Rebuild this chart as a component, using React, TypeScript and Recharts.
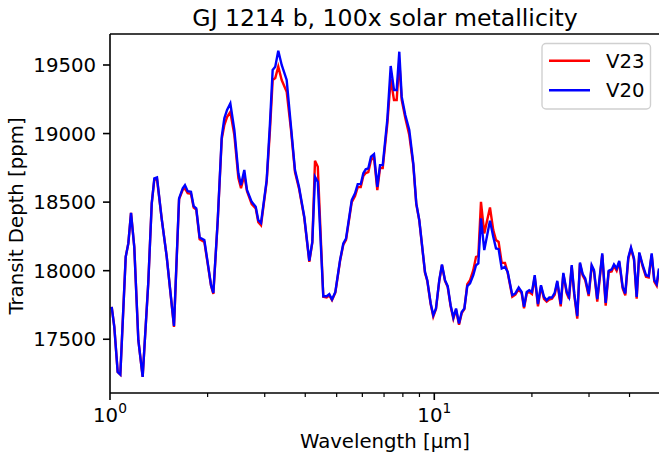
import { LineChart, Line, XAxis, YAxis, ReferenceLine } from 'recharts'

// wavelengths in micron
const wavelength = [
  1.012, 1.031, 1.056, 1.076, 1.118, 1.139, 1.161, 1.188, 1.223, 1.261,
  1.312, 1.345, 1.37, 1.396, 1.443, 1.496, 1.575, 1.633, 1.676, 1.703,
  1.736, 1.777, 1.811, 1.845, 1.89, 1.954, 2.01, 2.049, 2.083, 2.149,
  2.211, 2.252, 2.296, 2.35, 2.418, 2.488, 2.535, 2.595, 2.645, 2.735,
  2.814, 2.866, 2.922, 3.042, 3.114, 3.174, 3.233, 3.303, 3.384, 3.506,
  3.615, 3.719, 3.826, 3.973, 4.117, 4.206, 4.287, 4.373, 4.547, 4.658,
  4.745, 4.837, 4.953, 5.121, 5.242, 5.344, 5.565, 5.697, 5.807, 5.932,
  6.042, 6.146, 6.26, 6.381, 6.518, 6.673, 6.802, 6.934, 7.163, 7.338,
  7.512, 7.657, 7.8, 7.934, 8.139, 8.373, 8.615, 8.8, 8.99, 9.361,
  9.515, 9.748, 9.929, 10.12, 10.36, 10.56, 10.79, 11.0, 11.23, 11.45,
  11.67, 11.92, 12.15, 12.38, 12.64, 12.89, 13.19, 13.45, 13.67, 13.93,
  14.26, 14.85, 15.2, 15.5, 15.79, 16.14, 16.52, 16.84, 17.4, 17.78,
  18.21, 18.6, 18.91, 19.28, 19.63, 20.01, 20.4, 20.88, 21.33, 21.79,
  22.21, 22.63, 23.06, 23.51, 23.95, 24.54, 25.0, 25.61, 26.03, 26.53,
  27.02, 27.6, 28.13, 28.68, 29.21, 29.93, 30.57, 31.08, 31.81, 32.96,
  33.77, 34.49, 35.24, 35.82, 36.51, 37.19, 38.1, 38.81, 39.65, 40.42,
  41.29, 42.08, 42.87, 43.92, 44.96, 45.83, 46.81, 47.69, 48.51, 49.31,
]

// transit depth [ppm]
const v23 = [
  17736, 17590, 17261, 17242, 18101, 18199, 18422, 18174, 17493, 17225,
  17907, 18491, 18665, 18670, 18381, 18101, 17590, 18520, 18590, 18600,
  18565, 18560, 18460, 18445, 18230, 18210, 18020, 17890, 17830, 18365,
  18960, 19062, 19120, 19157, 18989, 18675, 18602, 18697, 18580, 18485,
  18455, 18354, 18332, 18650, 19026, 19390, 19405, 19488, 19390, 19305,
  19026, 18720, 18600, 18385, 18065, 18205, 18802, 18758, 17810, 17805,
  17820, 17785, 17840, 18070, 18190, 18225, 18500, 18544, 18609, 18609,
  18690, 18712, 18719, 18807, 18828, 18588, 18748, 18748, 19069, 19396,
  19245, 19245, 19530, 19245, 19113, 18989, 18770, 18485, 18365, 17985,
  17925, 17755, 17665, 17720, 17925, 18040, 17925, 17880, 17740, 17650,
  17715, 17605, 17690, 17720, 17901, 17931, 18004, 18101, 18106, 18502,
  18272, 18461, 18296, 18223, 18210, 18057, 18057, 17985, 17810, 17825,
  17865, 17835, 17725, 17835, 17845, 17830, 17955, 17740, 17885, 17795,
  17775, 17790, 17795, 17825, 17915, 17740, 17975, 17835, 17795, 18030,
  17820, 17650, 18050, 17965, 17930, 17815, 18030, 17995, 17775, 18115,
  17745, 17990, 17995, 18035, 18000, 18060, 17870, 17820, 18085, 18160,
  18080, 17795, 18125, 18030, 17955, 17950, 18115, 17920, 17890, 18005,
]

const v20 = [
  17736, 17590, 17261, 17242, 18101, 18199, 18422, 18174, 17493, 17225,
  17907, 18491, 18673, 18680, 18381, 18101, 17597, 18527, 18600, 18624,
  18580, 18575, 18471, 18454, 18242, 18223, 18028, 17894, 17838, 18369,
  18977, 19111, 19172, 19220, 19026, 18710, 18624, 18734, 18588, 18502,
  18466, 18369, 18349, 18661, 19074, 19464, 19488, 19604, 19500, 19391,
  19050, 18734, 18612, 18393, 18072, 18210, 18685, 18648, 17814, 17814,
  17829, 17790, 17845, 18077, 18199, 18235, 18515, 18564, 18631, 18631,
  18710, 18739, 18746, 18831, 18850, 18612, 18770, 18770, 19099, 19493,
  19318, 19318, 19597, 19269, 19135, 19026, 18782, 18491, 18369, 17991,
  17931, 17761, 17675, 17724, 17931, 18045, 17931, 17887, 17748, 17658,
  17724, 17615, 17699, 17724, 17887, 17907, 17967, 18040, 18053, 18381,
  18150, 18364, 18247, 18162, 18157, 18016, 18028, 17991, 17821, 17834,
  17877, 17845, 17736, 17845, 17858, 17845, 17967, 17756, 17894, 17809,
  17785, 17804, 17804, 17838, 17926, 17756, 17984, 17845, 17809, 18040,
  17834, 17668, 18060, 17975, 17943, 17829, 18040, 18004, 17792, 18126,
  17765, 17999, 18009, 18045, 18016, 18072, 17882, 17834, 18096, 18169,
  18089, 17809, 18133, 18040, 17967, 17960, 18126, 17931, 17902, 18016,
]

const xTicks = [1, 2, 3, 4, 5, 6, 7, 8, 9, 10, 20, 30, 40]
const yTicks = [17500, 18000, 18500, 19000, 19500]
const xDomain = [1, 49.31]
const yDomain = [17108, 19726]

const data = wavelength.map((wl, i) => ({ wl, v23: v23[i], v20: v20[i] }))

const FONT = 'DejaVu Sans'

function XTick(props: any) {
  const { x, y, payload } = props
  const v = payload.value
  const major = v === 1 || v === 10
  return (
    <g>
      <line x1={x} x2={x} y1={y} y2={y + (major ? 7 : 4)} stroke="#000" strokeWidth={major ? 1.6 : 1.2} />
      {major && (
        <text x={x} y={y + 29} textAnchor="middle" fontSize={19.7} fontFamily={FONT} fill="#000">
          10
          <tspan dy={-9} fontSize={13.8}>{v === 1 ? '0' : '1'}</tspan>
        </text>
      )}
    </g>
  )
}

function YTick(props: any) {
  const { x, y, payload } = props
  return (
    <g>
      <line x1={x - 7} x2={x} y1={y} y2={y} stroke="#000" strokeWidth={1.6} />
      <text x={x - 14} y={y} dy="0.36em" textAnchor="end" fontSize={19.7} fontFamily={FONT} fill="#000">
        {payload.value}
      </text>
    </g>
  )
}

export default function App() {
  return (
    <div style={{ position: 'absolute', left: 0, top: 0, width: 659, height: 456, background: '#fff', overflow: 'hidden' }}>
      <LineChart width={659} height={456} data={data} margin={{ top: 34, right: 0, bottom: 0, left: 0 }}>
        <XAxis
          dataKey="wl"
          type="number"
          scale="log"
          domain={xDomain}
          allowDataOverflow
          ticks={xTicks}
          interval={0}
          height={63}
          tickSize={0}
          tickMargin={0}
          tickLine={false}
          axisLine={{ stroke: '#000', strokeWidth: 1.6 }}
          tick={<XTick />}
        />
        <YAxis
          type="number"
          domain={yDomain}
          allowDataOverflow
          ticks={yTicks}
          interval={0}
          width={110}
          tickSize={0}
          tickMargin={0}
          tickLine={false}
          axisLine={{ stroke: '#000', strokeWidth: 1.6 }}
          tick={<YTick />}
        />
        <ReferenceLine y={yDomain[1]} stroke="#000" strokeWidth={1.6} />
        <Line dataKey="v23" type="linear" stroke="#ff0000" strokeWidth={2.4} dot={false} isAnimationActive={false} />
        <Line dataKey="v20" type="linear" stroke="#0000ff" strokeWidth={2.4} dot={false} isAnimationActive={false} />
      </LineChart>
      <svg width={659} height={456} style={{ position: 'absolute', left: 0, top: 0, pointerEvents: 'none' }}>
        <text x={385} y={25.5} textAnchor="middle" fontSize={23.6} fontFamily={FONT} fill="#000">
          GJ 1214 b, 100x solar metallicity
        </text>
        <text x={385} y={448} textAnchor="middle" fontSize={19.7} fontFamily={FONT} fill="#000">
          Wavelength [µm]
        </text>
        <text transform="translate(23,216) rotate(-90)" textAnchor="middle" fontSize={19.7} fontFamily={FONT} fill="#000">
          Transit Depth [ppm]
        </text>
        <rect x={542} y={43.5} width={108.5} height={65.5} rx={4} fill="rgba(255,255,255,0.8)" stroke="#d0d0d0" strokeWidth={1.4} />
        <line x1={549} x2={590} y1={60.7} y2={60.7} stroke="#ff0000" strokeWidth={2.4} />
        <line x1={549} x2={590} y1={90.3} y2={90.3} stroke="#0000ff" strokeWidth={2.4} />
        <text x={606} y={67.8} fontSize={19.7} fontFamily={FONT} fill="#000">V23</text>
        <text x={606} y={97.4} fontSize={19.7} fontFamily={FONT} fill="#000">V20</text>
      </svg>
    </div>
  )
}
